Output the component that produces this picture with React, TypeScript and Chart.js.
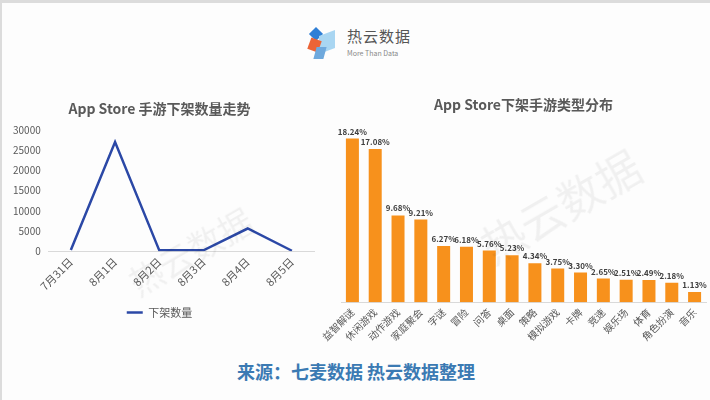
import React, { useEffect, useRef } from "react";
import { Chart, registerables } from "chart.js";

Chart.register(...registerables);

const lineLabels = ["7月31日", "8月1日", "8月2日", "8月3日", "8月4日", "8月5日"];
const lineValues = [300, 27000, 200, 200, 5600, 100];
const lineSeriesName = "下架数量";
const lineTitle = "App Store 手游下架数量走势";

const barLabels = [
  "益智解谜", "休闲游戏", "动作游戏", "家庭聚会", "字谜", "冒险", "问答", "桌面",
  "策略", "模拟游戏", "卡牌", "竞速", "娱乐场", "体育", "角色扮演", "音乐",
];
const barValues = [18.24, 17.08, 9.68, 9.21, 6.27, 6.18, 5.76, 5.23, 4.34, 3.75, 3.3, 2.65, 2.51, 2.49, 2.18, 1.13];
const barTitle = "App Store下架手游类型分布";

const FONT = '"Noto Sans CJK SC", "Noto Sans", sans-serif';
const TEXT = "#595959";

const valueLabelPlugin = {
  id: "valueLabels",
  afterDatasetsDraw(chart: any) {
    const ctx = chart.ctx;
    const meta = chart.getDatasetMeta(0);
    ctx.save();
    ctx.font = `bold 8px ${FONT}`;
    ctx.fillStyle = "#404040";
    ctx.textAlign = "center";
    ctx.textBaseline = "bottom";
    meta.data.forEach((el: any, i: number) => {
      const v = chart.data.datasets[0].data[i];
      ctx.fillText(v.toFixed(2) + "%", el.x, el.y - 3);
    });
    ctx.restore();
  },
};

function LineChart() {
  const ref = useRef<HTMLCanvasElement>(null);
  useEffect(() => {
    const chart = new Chart(ref.current!, {
      type: "line",
      data: {
        labels: lineLabels,
        datasets: [
          {
            label: lineSeriesName,
            data: lineValues,
            borderColor: "#2b48a6",
            backgroundColor: "#2b48a6",
            borderWidth: 2.5,
            pointRadius: 0,
            tension: 0,
          },
        ],
      },
      options: {
        responsive: false,
        animation: false,
        layout: { padding: { left: 3, right: 18, top: 0, bottom: 0 } },
        plugins: {
          title: {
            display: true,
            text: lineTitle,
            color: TEXT,
            font: { family: FONT, size: 14, weight: "bold" },
            padding: { top: 1, bottom: 13 },
          },
          legend: {
            position: "bottom",
            labels: {
              usePointStyle: true,
              pointStyle: "line",
              pointStyleWidth: 16,
              color: TEXT,
              font: { family: FONT, size: 11 },
              padding: 10,
            },
          },
          tooltip: { enabled: false },
        },
        scales: {
          x: {
            offset: true,
            grid: { display: false, drawTicks: false },
            border: { color: "#d9d9d9" },
            ticks: {
              color: TEXT,
              font: { family: FONT, size: 11 },
              minRotation: 45,
              maxRotation: 45,
              padding: 4,
            },
          },
          y: {
            min: 0,
            max: 30000,
            grid: { display: false, drawTicks: false },
            border: { display: false },
            ticks: {
              stepSize: 5000,
              color: TEXT,
              font: { family: FONT, size: 10 },
              padding: 8,
              callback: (v: any) => String(v),
            },
          },
        },
      },
    });
    return () => chart.destroy();
  }, []);
  return <canvas ref={ref} width={330} height={229} style={{ position: "absolute", left: 0, top: 96 }} />;
}

function BarChart() {
  const ref = useRef<HTMLCanvasElement>(null);
  useEffect(() => {
    const chart = new Chart(ref.current!, {
      type: "bar",
      data: {
        labels: barLabels,
        datasets: [
          {
            label: "占比",
            data: barValues,
            backgroundColor: "#f7911c",
            barPercentage: 0.57,
            categoryPercentage: 1,
          },
        ],
      },
      options: {
        responsive: false,
        animation: false,
        layout: { padding: { left: 39, right: 6, top: 0, bottom: 0 } },
        plugins: {
          title: {
            display: true,
            text: barTitle,
            color: TEXT,
            font: { family: FONT, size: 14, weight: "bold" },
            padding: { top: 3, bottom: 10 },
          },
          legend: { display: false },
          tooltip: { enabled: false },
        },
        scales: {
          x: {
            grid: { display: false, drawTicks: false },
            border: { color: "#d9d9d9" },
            ticks: {
              color: TEXT,
              font: { family: FONT, size: 10 },
              minRotation: 45,
              maxRotation: 45,
              autoSkip: false,
              padding: 4,
            },
          },
          y: {
            display: false,
            min: 0,
            max: 20,
          },
        },
      },
      plugins: [valueLabelPlugin],
    });
    return () => chart.destroy();
  }, []);
  return <canvas ref={ref} width={410} height={254} style={{ position: "absolute", left: 300, top: 90 }} />;
}

function Logo() {
  return (
    <div style={{ position: "absolute", left: 305, top: 22, width: 120, height: 38 }}>
      <div style={{ position: "absolute", left: 4, top: 4, width: 10, height: 10, background: "#2f7fd6", transform: "rotate(45deg)" }} />
      <div style={{ position: "absolute", left: 12, top: 8, width: 16, height: 18, background: "#a9d6f2", transform: "skewY(-20deg)" }} />
      <div style={{ position: "absolute", left: 2, top: 14, width: 11, height: 12, background: "#ec6436", transform: "rotate(20deg)" }} />
      <div style={{ position: "absolute", left: 8, top: 22, width: 10, height: 12, background: "#6fa9dd", transform: "skewX(-15deg)" }} />
      <div style={{ position: "absolute", left: 40, top: 2, fontFamily: FONT, fontSize: 15, color: "#555", letterSpacing: 1, lineHeight: "18px", whiteSpace: "nowrap" }}>
        热云数据
      </div>
      <div style={{ position: "absolute", left: 40, top: 24, fontFamily: FONT, fontSize: 7, color: "#888", lineHeight: "9px", whiteSpace: "nowrap" }}>
        More Than Data
      </div>
    </div>
  );
}

export default function App() {
  useEffect(() => {
    document.body.style.margin = "0";
  }, []);
  return (
    <div
      style={{
        position: "fixed",
        left: 0,
        top: 0,
        width: 710,
        height: 400,
        background: "#fdfdfd",
        boxSizing: "border-box",
        borderTop: "3px solid #dcdcdc",
        borderLeft: "2px solid #dcdcdc",
        overflow: "hidden",
      }}
    >
      <div style={{ position: "absolute", left: 0, top: 0, width: 710, height: 400 }}>
        <Logo />
        <LineChart />
        <BarChart />
        <div
          style={{
            position: "absolute",
            left: 120,
            top: 223,
            fontFamily: FONT,
            fontSize: 34,
            color: "rgba(0,0,0,0.05)",
            transform: "rotate(-30deg)",
            whiteSpace: "nowrap",
            pointerEvents: "none",
          }}
        >
          热云数据
        </div>
        <div
          style={{
            position: "absolute",
            left: 470,
            top: 170,
            fontFamily: FONT,
            fontSize: 44,
            color: "rgba(0,0,0,0.05)",
            transform: "rotate(-30deg)",
            whiteSpace: "nowrap",
            pointerEvents: "none",
          }}
        >
          热云数据
        </div>
        <div
          style={{
            position: "absolute",
            left: 0,
            top: 355,
            width: 708,
            textAlign: "center",
            fontFamily: FONT,
            fontSize: 18,
            fontWeight: "bold",
            color: "#3b7ab3",
          }}
        >
          来源：七麦数据 热云数据整理
        </div>
      </div>
    </div>
  );
}
